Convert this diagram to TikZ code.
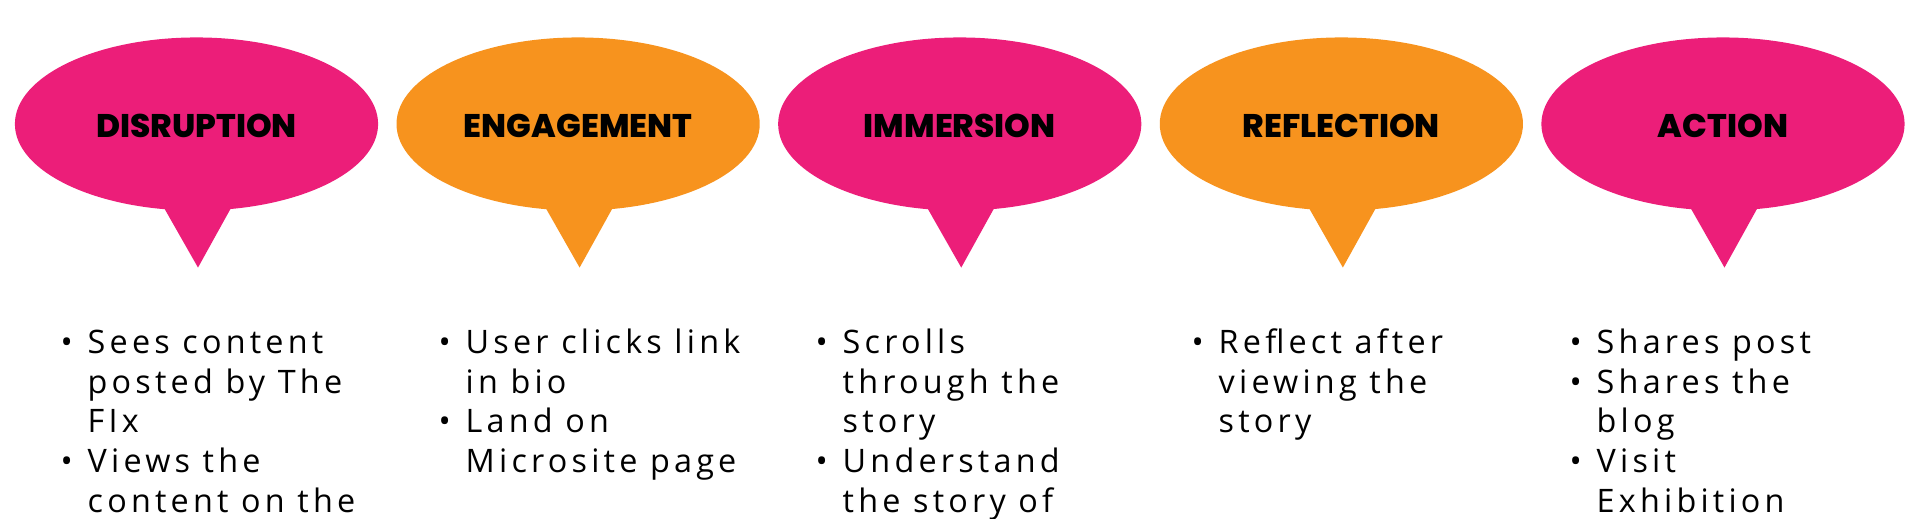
\documentclass[tikz,border=0pt]{standalone}
\usepackage{fontspec}
\setmainfont{Open Sans}[LetterSpace=13]
\newfontfamily\stagefont{Poppins ExtraBold}
\usetikzlibrary{positioning, shapes.geometric}

\definecolor{flxpink}{HTML}{EC1E79}
\definecolor{flxorange}{HTML}{F7931E}

% bullet and hanging indent for the step lists
\newcommand{\bitem}{\makebox[0.27cm][l]{\textbullet}}
\newcommand{\bcont}{\hspace*{0.27cm}}

\begin{document}
\begin{tikzpicture}[
	x=0.01cm, y=-0.01cm, % pixel grid, y pointing down
	node distance=0.184cm, % gap between the speech bubbles
	% Style for the stage bubbles
	bubble/.style={
		ellipse,
		minimum width=3.63cm,
		minimum height=1.73cm,
		inner sep=0pt,
		outer sep=0pt,
		text height=0.28cm,
		text depth=0pt,
		font=\stagefont\fontsize{9.3pt}{10pt}\selectfont
	},
	% Style for the bullet lists
	steps/.style={
		anchor=north west,
		align=left,
		inner sep=0pt,
		font=\fontsize{9.2pt}{11.3pt}\selectfont
	}
	]
	
	\useasboundingbox (0,0) rectangle (1920,519);
	\clip (0,0) rectangle (1920,519);
	
	% --- NODES (STAGES) ---
	\node[bubble, fill=flxpink] (disruption) at (196.5,124) {DISRUPTION};
	\node[bubble, fill=flxorange, right=of disruption] (engagement) {ENGAGEMENT};
	\node[bubble, fill=flxpink, right=of engagement] (immersion) {IMMERSION};
	\node[bubble, fill=flxorange, right=of immersion] (reflection) {REFLECTION};
	\node[bubble, fill=flxpink, right=of reflection] (action) {ACTION};
	
	% --- TAILS ---
	\fill[flxpink] ([xshift=-0.355cm, yshift=0.08cm]disruption.south) -- ([xshift=0.375cm, yshift=0.08cm]disruption.south) -- ([xshift=0.015cm, yshift=-0.57cm]disruption.south) -- cycle;
	\fill[flxorange] ([xshift=-0.355cm, yshift=0.08cm]engagement.south) -- ([xshift=0.375cm, yshift=0.08cm]engagement.south) -- ([xshift=0.015cm, yshift=-0.57cm]engagement.south) -- cycle;
	\fill[flxpink] ([xshift=-0.355cm, yshift=0.08cm]immersion.south) -- ([xshift=0.375cm, yshift=0.08cm]immersion.south) -- ([xshift=0.015cm, yshift=-0.57cm]immersion.south) -- cycle;
	\fill[flxorange] ([xshift=-0.355cm, yshift=0.08cm]reflection.south) -- ([xshift=0.375cm, yshift=0.08cm]reflection.south) -- ([xshift=0.015cm, yshift=-0.57cm]reflection.south) -- cycle;
	\fill[flxpink] ([xshift=-0.355cm, yshift=0.08cm]action.south) -- ([xshift=0.375cm, yshift=0.08cm]action.south) -- ([xshift=0.015cm, yshift=-0.57cm]action.south) -- cycle;
	
	% --- LISTS ---
	\node[steps] (disruptionlist) at (60,325) {\strut\bitem Sees content\\ \bcont posted by The\\ \bcont FIx\\ \bitem Views the\\ \bcont content on the};
	\node[steps] (engagementlist) at (438,325) {\strut\bitem User clicks link\\ \bcont in bio\\ \bitem Land on\\ \bcont Microsite page};
	\node[steps] (immersionlist) at (815,325) {\strut\bitem Scrolls\\ \bcont through the\\ \bcont story\\ \bitem Understand\\ \bcont the story of};
	\node[steps] (reflectionlist) at (1191,325) {\strut\bitem Reflect after\\ \bcont viewing the\\ \bcont story};
	\node[steps] (actionlist) at (1569,325) {\strut\bitem Shares post\\ \bitem Shares the\\ \bcont blog\\ \bitem Visit\\ \bcont Exhibition};
	
\end{tikzpicture}
\end{document}
